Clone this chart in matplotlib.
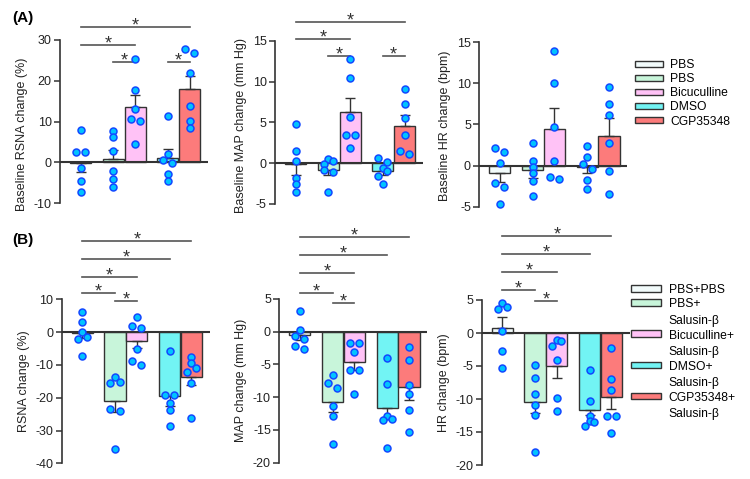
import matplotlib
matplotlib.use('Agg')
import matplotlib.pyplot as plt
from matplotlib.patches import Patch, Rectangle
from matplotlib.legend_handler import HandlerPatch

plt.rcParams['font.family'] = ['Liberation Sans', 'DejaVu Sans']
plt.rcParams['axes.unicode_minus'] = False

W, H = 750, 479

# groups / legend labels
labels_top = ['PBS', 'PBS', 'Bicuculline', 'DMSO', 'CGP35348']
labels_bottom = ['PBS+PBS', 'PBS+\nSalusin-β', 'Bicuculline+\nSalusin-β',
                 'DMSO+\nSalusin-β', 'CGP35348+\nSalusin-β']
bar_colors = ['#F2FBFB', '#C8F5DA', '#FFC2F6', '#72F4F4', '#FC7B7B']
pos = [0, 1.5, 2.5, 4, 5]

# (A) baseline RSNA
rsna_base_mean = [-0.2, 0.7, 13.5, 1.0, 18.0]
rsna_base_err = [2.1, 2.3, 3.0, 2.3, 3.1]
rsna_base_dots = [[8.0, 2.4, 2.6, -1.3, -4.6, -7.2],
                  [7.6, 6.2, 2.8, -2.1, -4.0, -6.0],
                  [25.4, 17.8, 13.1, 10.6, 10.2, 4.4],
                  [11.3, 2.1, 0.6, -0.2, -2.8, -4.6],
                  [27.7, 26.9, 21.8, 13.7, 10.2, 8.4]]
rsna_base_sig = [(0, 4, 33.2), (0, 2, 28.8), (1, 2, 24.6), (3, 4, 24.6)]

# (A) baseline MAP
map_base_mean = [-0.15, -0.85, 6.3, -0.9, 4.6]
map_base_err = [1.3, 0.6, 1.7, 0.5, 1.3]
map_base_dots = [[4.8, 1.5, 0.3, -1.8, -2.5, -3.5],
                 [0.5, 0.3, -0.1, -0.8, -1.1, -3.5],
                 [12.7, 10.4, 5.6, 3.5, 3.5, 1.9],
                 [0.6, 0.2, -0.6, -1.0, -1.6, -2.6],
                 [9.1, 7.2, 5.5, 3.4, 1.5, 1.1]]
map_base_sig = [(0, 4, 17.35), (0, 2, 15.2), (1, 2, 13.15), (3, 4, 13.15)]

# (A) baseline HR
hr_base_mean = [-0.9, -0.55, 4.4, -0.2, 3.65]
hr_base_err = [1.1, 0.9, 2.6, 0.7, 2.1]
hr_base_dots = [[2.2, 1.6, 0.3, -2.1, -2.6, -4.7],
                [2.8, 0.6, -0.2, -0.9, -1.9, -3.7],
                [14.0, 10.1, 4.7, 0.6, -1.4, -1.6],
                [2.4, 1.0, 0.2, -0.4, -1.8, -2.8],
                [9.6, 7.5, 6.2, 2.7, -0.6, -3.5]]
hr_base_sig = []

# (B) RSNA response
rsna_mean = [-0.3, -21.0, -2.6, -19.4, -13.6]
rsna_err = [1.4, 3.5, 2.3, 3.2, 2.6]
rsna_dots = [[6.0, 3.1, 0.0, -1.6, -2.1, -7.4],
             [-13.8, -15.3, -15.5, -23.5, -24.0, -35.6],
             [4.7, 1.9, 1.2, -5.3, -8.7, -9.9],
             [-5.7, -19.2, -19.2, -21.5, -23.7, -28.7],
             [-7.7, -9.5, -11.0, -12.3, -15.6, -26.3]]
rsna_sig = [(0, 4, 27.7), (0, 3, 22.2), (0, 2, 16.9), (0, 1, 11.85), (1, 2, 9.5)]

# (B) MAP response
map_mean = [-0.5, -10.7, -4.65, -11.6, -8.5]
map_err = [0.8, 1.6, 1.2, 1.4, 1.9]
map_dots = [[3.1, 0.2, -0.7, -1.2, -2.2, -2.6],
            [-6.6, -7.9, -8.6, -11.4, -12.9, -17.1],
            [-1.8, -1.8, -3.2, -5.8, -5.8, -9.6],
            [-4.1, -8.0, -12.9, -13.4, -13.5, -17.8],
            [-2.4, -4.4, -8.1, -9.6, -11.9, -15.3]]
map_sig = [(0, 4, 14.4), (0, 3, 11.6), (0, 2, 8.85), (0, 1, 5.9), (1, 2, 4.3)]

# (B) HR response
hr_mean = [0.8, -10.4, -5.0, -11.6, -9.7]
hr_err = [1.6, 1.7, 1.8, 0.8, 1.8]
hr_dots = [[4.5, 4.0, 3.7, 0.25, -2.8, -5.35],
           [-4.8, -6.8, -9.3, -10.9, -12.4, -18.1],
           [-1.1, -1.2, -2.0, -4.1, -9.8, -11.8],
           [-5.6, -10.3, -12.5, -13.4, -13.5, -14.1],
           [-2.2, -6.9, -8.7, -12.5, -12.6, -15.1]]
hr_sig = [(0, 4, 14.75), (0, 3, 12.0), (0, 2, 9.24), (0, 1, 6.47), (1, 2, 4.8)]

XLIM = (-0.94, 5.84)
AX_W = 148

fig = plt.figure(figsize=(W / 100, H / 100), dpi=100)


def swarm(vals, px_per_val, step=0.21, gap_px=5.5):
    # chain dots that sit close vertically, then spread each cluster sideways
    order = sorted(range(len(vals)), key=lambda k: -vals[k])
    clusters = [[order[0]]]
    for k in order[1:]:
        if (vals[clusters[-1][-1]] - vals[k]) * px_per_val < gap_px:
            clusters[-1].append(k)
        else:
            clusters.append([k])
    xs = [0.0] * len(vals)
    for cl in clusters:
        if len(cl) == 2:
            offs = [-step, step]
        else:
            offs = [0, step, -step, 2 * step, -2 * step, 3 * step][:len(cl)]
        for k, o in zip(cl, offs):
            xs[k] = o
    return xs


def draw_panel(left, top, bottom, means, errs, dots, ylim, yticks, ylabel, sig, label_y=0.5):
    ax = fig.add_axes([left / W, 1 - bottom / H, AX_W / W, (bottom - top) / H])
    ax.set_xlim(*XLIM)
    ax.set_ylim(*ylim)
    for side in ['top', 'right', 'bottom']:
        ax.spines[side].set_visible(False)
    ax.spines['left'].set_color('#333333')
    ax.spines['left'].set_linewidth(1.2)
    ax.set_xticks([])
    ax.set_yticks(yticks)
    ax.tick_params(axis='y', direction='out', length=4, width=1.1, color='#333333',
                   labelsize=9, pad=2, labelcolor='#222222')
    ax.axhline(0, color='#333333', lw=1.5, zorder=3)

    lower = [e if m < 0 else 0 for m, e in zip(means, errs)]
    upper = [e if m >= 0 else 0 for m, e in zip(means, errs)]
    ax.bar(pos, means, width=0.97, color=bar_colors, edgecolor='#333333',
           linewidth=1.0, zorder=2)
    ax.errorbar(pos, means, yerr=[lower, upper], fmt='none', ecolor='#333333',
                elinewidth=1.0, capsize=3.5, capthick=1.0, zorder=2.5)

    px_per_val = (bottom - top) / (ylim[1] - ylim[0])
    for p, vals in zip(pos, dots):
        xs = swarm(vals, px_per_val)
        ax.plot([p + x for x in xs], vals, 'o', ms=5, mfc='#00C3FF', mec='#1248FF',
                mew=1.1, zorder=4, clip_on=False)

    for i, j, y in sig:
        ax.plot([pos[i], pos[j]], [y, y], color='#555555', lw=1.2, clip_on=False)
        ax.annotate('*', xy=((pos[i] + pos[j]) / 2, y), xytext=(0, -2.5),
                    textcoords='offset points', ha='center', va='baseline',
                    fontsize=13, color='#333333', annotation_clip=False)

    ax.set_ylabel(ylabel, fontsize=9, color='#222222', labelpad=4)
    ax.yaxis.label.set_y(label_y)
    return ax


draw_panel(60, 40, 203, rsna_base_mean, rsna_base_err, rsna_base_dots, (-10, 30),
           [-10, 0, 10, 20, 30], 'Baseline RSNA change (%)', rsna_base_sig, label_y=0.42)
draw_panel(275, 40.7, 204, map_base_mean, map_base_err, map_base_dots, (-5, 15),
           [-5, 0, 5, 10, 15], 'Baseline MAP change (mm Hg)', map_base_sig, label_y=0.48)
draw_panel(479.3, 42.3, 206.7, hr_base_mean, hr_base_err, hr_base_dots, (-5, 15),
           [-5, 0, 5, 10, 15], 'Baseline HR change (bpm)', hr_base_sig, label_y=0.49)

draw_panel(61.7, 299.3, 463.3, rsna_mean, rsna_err, rsna_dots, (-40, 10),
           [-40, -30, -20, -10, 0, 10], 'RSNA change (%)', rsna_sig)
draw_panel(279.3, 298.7, 462.7, map_mean, map_err, map_dots, (-20, 5),
           [-20, -15, -10, -5, 0, 5], 'MAP change (mm Hg)', map_sig)
draw_panel(481.7, 300, 465, hr_mean, hr_err, hr_dots, (-20, 5),
           [-20, -15, -10, -5, 0, 5], 'HR change (bpm)', hr_sig)

fig.text(12 / W, 1 - 18 / H, '(A)', fontsize=11, fontweight='bold', va='center')
fig.text(12 / W, 1 - 240 / H, '(B)', fontsize=11, fontweight='bold', va='center')

# legends
top_handles = [Patch(facecolor=c, edgecolor='#333333', lw=1.0) for c in bar_colors]
fig.legend(top_handles, labels_top, loc='upper left',
           bbox_to_anchor=(635 / W, 1 - 59.3 / H), frameon=False, fontsize=8.7,
           handlelength=2.3, handleheight=0.45, handletextpad=0.6,
           labelspacing=0.17, borderpad=0, borderaxespad=0)


def raised_patch(legend, orig_handle, xdescent, ydescent, width, height, fontsize):
    return Rectangle((-xdescent, -ydescent + 0.85 * fontsize), width, height)


bottom_handles = [Patch(facecolor=c, edgecolor='#333333', lw=1.0) for c in bar_colors]
hmap = {h: HandlerPatch(patch_func=raised_patch)
        for h, lab in zip(bottom_handles, labels_bottom) if '\n' in lab}
leg = fig.legend(bottom_handles, labels_bottom, loc='upper left', handler_map=hmap,
                 bbox_to_anchor=(630.7 / W, 1 - 283.7 / H), frameon=False, fontsize=8.7,
                 handlelength=2.5, handleheight=0.45, handletextpad=0.65,
                 labelspacing=0.22, borderpad=0, borderaxespad=0)
for t in leg.get_texts():
    t.set_linespacing(1.5)

fig.savefig('out.png', dpi=100)
